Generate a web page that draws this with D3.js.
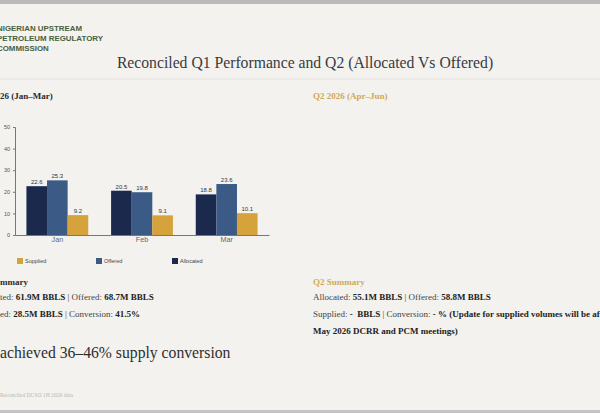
<!DOCTYPE html>
<html>
<head>
<meta charset="utf-8">
<script src="https://cdn.jsdelivr.net/npm/d3@7"></script>
<style>
  html, body { margin: 0; padding: 0; background: #f3f2ee; }
  svg { display: block; }
</style>
</head>
<body>
<svg id="chart" width="600" height="413"></svg>
<script>
// chart data
const months = ["Jan", "Feb", "Mar"];
const seriesNames = ["Allocated", "Offered", "Supplied"];
const allocated = [22.6, 20.5, 18.8];
const offered = [25.3, 19.8, 23.6];
const supplied = [9.2, 9.1, 10.1];
const yTicks = [0, 10, 20, 30, 40, 50];
const legendOrder = ["Supplied", "Offered", "Allocated"];
const colors = { Allocated: "#1b2a4c", Offered: "#3b5a86", Supplied: "#d6a23c" };

const svg = d3.select("#chart");
const serif = "'Liberation Serif', 'Times New Roman', serif";
const sans = "'Liberation Sans', Arial, sans-serif";

// background + top/bottom frame
svg.append("rect").attr("width", 600).attr("height", 413).attr("fill", "#f3f2ee");
svg.append("rect").attr("x", 0).attr("y", 0).attr("width", 600).attr("height", 4).attr("fill", "#b9b9b9");
svg.append("rect").attr("x", 0).attr("y", 410).attr("width", 600).attr("height", 3).attr("fill", "#c4c4c4");

// helper: text whose beginning is cut off by the left edge
function cropText(str, hidden, y, size, weight, color, family) {
  const t = svg.append("text").attr("y", y)
    .attr("font-family", family).attr("font-size", size)
    .attr("font-weight", weight).attr("fill", color);
  const probe = t.text(hidden).node().getComputedTextLength();
  t.text(hidden + str).attr("x", -probe);
  return t;
}

// logo text
const logo = ["NIGERIAN UPSTREAM", "PETROLEUM REGULATORY", "COMMISSION"];
logo.forEach((l, i) => {
  svg.append("text").attr("x", -3).attr("y", 31 + i * 9.8)
    .attr("font-family", sans).attr("font-size", 7.9).attr("font-weight", "bold")
    .attr("fill", "#46613f").text(l);
});

// title
svg.append("text").attr("x", 305).attr("y", 68).attr("text-anchor", "middle")
  .attr("font-family", serif).attr("font-size", 15.7).attr("fill", "#3a3a3e")
  .text("Reconciled Q1 Performance and Q2 (Allocated Vs Offered)");

svg.append("line").attr("x1", 0).attr("x2", 600).attr("y1", 79).attr("y2", 79)
  .attr("stroke", "#e2e1dc").attr("stroke-width", 1);

// section headings
cropText("26 (Jan–Mar)", "Q1 20", 99, 9, "bold", "#2a2a2a", serif);
svg.append("text").attr("x", 313).attr("y", 99)
  .attr("font-family", serif).attr("font-size", 9).attr("font-weight", "bold")
  .attr("fill", "#cfa95a").text("Q2 2026 (Apr–Jun)");

// scales
const x = d3.scaleBand().domain(months).range([15, 269]).paddingInner(0.27).paddingOuter(0.135);
const xs = d3.scaleBand().domain(seriesNames).range([0, x.bandwidth()]);
const y = d3.scaleLinear().domain([0, 50]).range([235, 127]);

// y axis
const yAxis = svg.append("g").attr("transform", "translate(15,0)")
  .call(d3.axisLeft(y).tickValues(yTicks).tickSize(2).tickPadding(3));
yAxis.select(".domain").attr("stroke", "#777");
yAxis.selectAll(".tick line").attr("stroke", "#777");
yAxis.selectAll("text").attr("font-family", sans).attr("font-size", 5.5).attr("fill", "#555");

// bars
const rows = months.map((m, i) => ({
  month: m,
  values: [
    { name: "Allocated", value: allocated[i] },
    { name: "Offered", value: offered[i] },
    { name: "Supplied", value: supplied[i] }
  ]
}));

const groups = svg.selectAll("g.month").data(rows).enter().append("g")
  .attr("class", "month").attr("transform", d => `translate(${x(d.month)},0)`);

groups.selectAll("rect").data(d => d.values).enter().append("rect")
  .attr("x", d => xs(d.name))
  .attr("y", d => y(d.value))
  .attr("width", xs.bandwidth())
  .attr("height", d => y(0) - y(d.value))
  .attr("fill", d => colors[d.name]);

groups.selectAll("text.val").data(d => d.values).enter().append("text")
  .attr("class", "val")
  .attr("x", d => xs(d.name) + xs.bandwidth() / 2)
  .attr("y", d => y(d.value) - 2)
  .attr("text-anchor", "middle")
  .attr("font-family", sans).attr("font-size", 6).attr("fill", "#333")
  .text(d => d.value.toFixed(1));

// x axis
const xAxis = svg.append("g").attr("transform", "translate(0,235)")
  .call(d3.axisBottom(x).tickSize(0).tickPadding(2).tickSizeOuter(0));
xAxis.select(".domain").attr("stroke", "#777");
xAxis.selectAll("text").attr("font-family", sans).attr("font-size", 7.2).attr("fill", "#666");

// legend
const legendX = [17, 96, 172];
const legend = svg.selectAll("g.leg").data(legendOrder).enter().append("g")
  .attr("class", "leg").attr("transform", (d, i) => `translate(${legendX[i]},258)`);
legend.append("rect").attr("width", 6).attr("height", 6).attr("fill", d => colors[d]);
legend.append("text").attr("x", 8).attr("y", 5.2)
  .attr("font-family", sans).attr("font-size", 5.5).attr("fill", "#444").text(d => d);

// summaries
function richLine(t, parts) {
  parts.forEach(p => {
    t.append("tspan").attr("font-weight", p[1] ? "bold" : "normal")
      .attr("fill", p[1] ? "#222" : "#444").text(p[0]);
  });
}

cropText("mmary", "Q1 Su", 285, 9, "bold", "#2a2a2a", serif);

const q1a = [["Allocated: ", 0], ["61.9M BBLS", 1], [" | Offered: ", 0], ["68.7M BBLS", 1]];
const q1b = [["Supplied: ", 0], ["28.5M BBLS", 1], [" | Conversion: ", 0], ["41.5%", 1]];
[[q1a, 300, "Alloca"], [q1b, 317, "Suppli"]].forEach(([parts, yy, hidden]) => {
  const probe = svg.append("text").attr("font-family", serif).attr("font-size", 9).text(hidden);
  const w = probe.node().getComputedTextLength();
  probe.remove();
  const t = svg.append("text").attr("x", -w).attr("y", yy)
    .attr("font-family", serif).attr("font-size", 9);
  richLine(t, parts);
});

svg.append("text").attr("x", 313).attr("y", 285)
  .attr("font-family", serif).attr("font-size", 9).attr("font-weight", "bold")
  .attr("fill", "#cfa95a").text("Q2 Summary");

const q2Lines = [
  [[["Allocated: ", 0], ["55.1M BBLS", 1], [" | Offered: ", 0], ["58.8M BBLS", 1]], 300],
  [[["Supplied: ", 0], ["-\u00a0 BBLS", 1], [" | Conversion: ", 0], ["- % (Update for supplied volumes will be after", 1]], 317],
  [[["May 2026 DCRR and PCM meetings)", 1]], 334]
];
q2Lines.forEach(([parts, yy]) => {
  const t = svg.append("text").attr("x", 313).attr("y", yy)
    .attr("font-family", serif).attr("font-size", 9);
  richLine(t, parts);
});

// key takeaway
cropText("achieved 36–46% supply conversion", "Q1\u00a0", 358, 15.7, "normal", "#2e2e2e", serif);

// footnote
cropText("Reconciled DCSO 1H 2026 data", "Source:\u00a0", 397, 5.6, "normal", "#b8b8b4", serif);
</script>
</body>
</html>
